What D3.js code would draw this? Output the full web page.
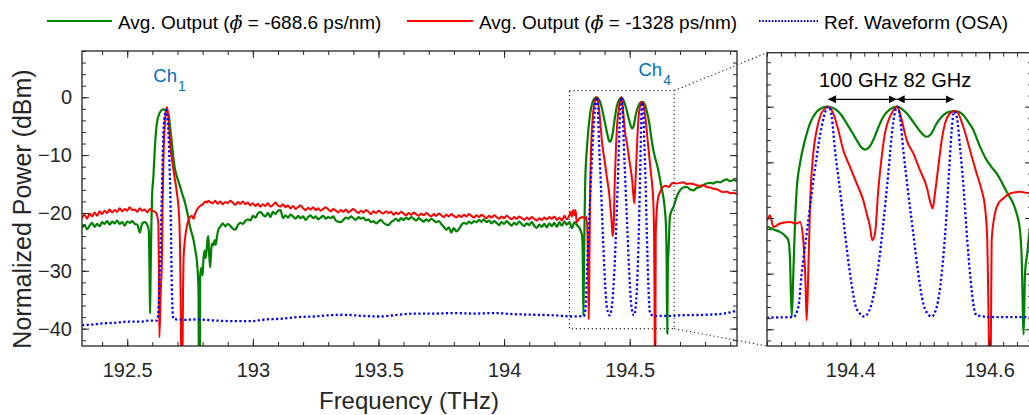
<!DOCTYPE html>
<html>
<head>
<meta charset="utf-8">
<script src="https://cdn.jsdelivr.net/npm/d3@7"></script>
<style>
body{margin:0;background:#fff;}
svg{display:block;font-family:"Liberation Sans",Arial,sans-serif;}
</style>
</head>
<body>
<div id="chart"></div>
<script>
// ---- data (frequency in THz, power in dBm) ----
const greenSpectrum = [
 [192.32,-22.6],[192.33,-22.1],[192.34,-22.8],[192.35,-22.2],[192.36,-21.7],[192.37,-22.4],[192.38,-21.9],[192.39,-22.3],
 [192.40,-21.6],[192.41,-21.9],[192.42,-21.4],[192.43,-22.0],[192.44,-21.5],[192.45,-21.8],[192.46,-21.3],[192.47,-21.9],
 [192.48,-21.6],[192.49,-22.2],[192.50,-21.5],[192.51,-21.7],[192.52,-21.4],[192.53,-21.9],[192.54,-22.0],[192.55,-23.4],
 [192.555,-22.6],[192.56,-21.8],[192.57,-21.6],[192.58,-22.1],[192.586,-23.0],[192.589,-31],[192.591,-37.4],[192.593,-31],
 [192.596,-22.4],[192.599,-17],[192.604,-13.8],[192.611,-8.0],[192.618,-4.5],[192.628,-2.8],[192.636,-2.3],[192.644,-2.1],
 [192.652,-2.3],[192.664,-2.9],[192.671,-5.2],[192.678,-8.0],[192.684,-10.5],[192.691,-12.6],[192.701,-14.2],[192.711,-15.5],
 [192.721,-17.0],[192.731,-18.4],[192.741,-20.3],[192.750,-22.4],[192.757,-23.5],[192.764,-24.7],[192.771,-26.5],[192.777,-28.2],
 [192.781,-30.5],[192.784,-34],[192.785,-46],[192.789,-46],[192.790,-31],[192.795,-29.5],[192.800,-30.8],[192.803,-28.2],
 [192.808,-26.5],[192.812,-27.8],[192.817,-25.9],[192.820,-24.5],[192.823,-24.0],[192.826,-27.0],[192.830,-29.4],[192.834,-26.5],
 [192.838,-25.3],[192.843,-25.6],[192.848,-24.7],[192.852,-25.5],[192.857,-24.2],[192.862,-23.0],[192.866,-22.6],[192.870,-22.4],
 [192.88,-21.8],[192.89,-22.3],[192.90,-21.9],[192.91,-22.2],[192.92,-22.7],[192.93,-22.9],[192.94,-22.1],[192.95,-21.7],
 [192.96,-21.9],[192.97,-21.4],[192.98,-21.1],[192.99,-21.3],[193.00,-20.5],[193.01,-20.8],[193.02,-20.1],[193.03,-19.8],
 [193.04,-20.3],[193.05,-20.6],[193.06,-20.0],[193.07,-20.7],[193.08,-19.8],[193.09,-20.2],[193.10,-19.6],[193.11,-19.5],
 [193.12,-20.9],[193.13,-20.4],[193.14,-20.8],[193.15,-20.3],[193.16,-20.6],[193.17,-21.0],[193.18,-20.5],[193.19,-20.9],
 [193.20,-20.6],[193.21,-21.2],[193.22,-20.7],[193.23,-20.4],[193.24,-20.9],[193.25,-20.6],[193.26,-21.1],[193.27,-20.8],
 [193.28,-20.5],[193.29,-21.0],[193.30,-20.7],[193.31,-20.9],[193.32,-20.6],[193.33,-21.3],[193.34,-21.5],[193.35,-21.6],
 [193.36,-21.2],[193.37,-20.8],[193.38,-21.0],[193.39,-20.6],[193.40,-20.9],[193.41,-21.2],[193.42,-20.7],[193.43,-21.0],
 [193.44,-20.8],[193.45,-21.3],[193.46,-21.1],[193.47,-21.6],[193.48,-21.4],[193.49,-21.8],[193.50,-21.5],[193.51,-21.2],
 [193.52,-21.7],[193.53,-22.0],[193.54,-22.1],[193.55,-21.6],[193.56,-21.3],[193.57,-21.0],[193.58,-21.4],[193.59,-20.9],
 [193.60,-21.2],[193.61,-20.8],[193.62,-21.1],[193.63,-20.7],[193.64,-21.0],[193.65,-21.3],[193.66,-20.9],[193.67,-21.2],
 [193.68,-21.5],[193.69,-21.1],[193.70,-21.4],[193.71,-21.0],[193.72,-21.3],[193.73,-21.6],[193.74,-21.4],[193.75,-21.9],
 [193.76,-22.4],[193.77,-22.9],[193.78,-22.5],[193.79,-23.4],[193.80,-22.6],[193.81,-23.2],[193.82,-22.8],[193.83,-22.1],
 [193.84,-21.7],[193.85,-21.9],[193.86,-21.5],[193.87,-21.8],[193.88,-21.4],[193.89,-21.6],[193.90,-21.2],[193.91,-21.5],
 [193.92,-21.1],[193.93,-21.6],[193.94,-21.3],[193.95,-21.8],[193.96,-21.4],[193.97,-21.7],[193.98,-22.1],[193.99,-21.6],
 [194.00,-21.9],[194.01,-21.4],[194.02,-21.8],[194.03,-22.2],[194.04,-21.7],[194.05,-22.0],[194.06,-21.5],[194.07,-21.9],
 [194.08,-22.3],[194.09,-21.8],[194.10,-22.1],[194.11,-21.6],[194.12,-22.2],[194.13,-22.6],[194.14,-22.0],[194.15,-22.4],
 [194.16,-21.9],[194.17,-22.5],[194.18,-21.8],[194.19,-22.3],[194.20,-21.7],[194.21,-22.4],[194.22,-21.6],[194.23,-22.2],
 [194.24,-21.5],[194.25,-22.0],[194.26,-21.6],[194.27,-22.6],[194.28,-21.6],[194.29,-22.1],[194.2987,-22.5],[194.306,-23.2],
 [194.3107,-24.0],[194.313,-27],[194.3156,-37.8],[194.3179,-30],[194.3203,-21],[194.3227,-15],[194.3275,-10.2],[194.3347,-6.0],
 [194.3419,-3.0],[194.3515,-0.9],[194.358,-0.3],[194.3659,0],[194.373,-0.15],[194.3803,-0.6],[194.387,-1.5],[194.3947,-3.0],
 [194.402,-4.5],[194.4091,-6.0],[194.415,-7.2],[194.4211,-7.7],[194.427,-7.3],[194.433,-6.0],[194.440,-3.8],[194.4474,-1.8],
 [194.457,-0.5],[194.4667,0],[194.474,-0.4],[194.4811,-1.2],[194.488,-2.3],[194.4955,-3.6],[194.503,-4.8],[194.5099,-5.4],
 [194.5156,-5.0],[194.5243,-3.0],[194.531,-1.9],[194.5387,-1.1],[194.5482,-0.8],[194.555,-0.9],[194.5626,-1.5],[194.569,-2.6],
 [194.577,-4.2],[194.586,-7.0],[194.5962,-9.6],[194.603,-10.8],[194.6106,-12.0],[194.618,-13.6],[194.625,-15.3],[194.6345,-17.4],
 [194.6394,-19.2],[194.6442,-22.2],[194.6466,-27],[194.6495,-40.9],[194.6514,-30],[194.6547,-26.3],[194.660,-20.7],[194.667,-19.6],
 [194.674,-19.0],[194.687,-17.2],[194.700,-16.1],[194.713,-15.6],[194.727,-15.5],[194.740,-15.9],[194.753,-16.1],[194.766,-15.7],
 [194.780,-15.5],[194.793,-15.2],[194.806,-14.9],[194.820,-14.8],[194.833,-14.9],[194.846,-14.6],[194.860,-14.7],[194.873,-14.4],
 [194.886,-14.2],[194.900,-14.5],[194.913,-14.3],[194.927,-14.5]
];

const redSpectrum = [
 [192.32,-20.9],[192.33,-20.3],[192.34,-21.0],[192.35,-20.1],[192.36,-20.6],[192.37,-19.9],[192.38,-20.5],[192.39,-19.7],
 [192.40,-20.2],[192.41,-19.6],[192.42,-20.0],[192.43,-19.4],[192.44,-19.9],[192.45,-19.5],[192.46,-19.8],[192.47,-19.2],
 [192.48,-19.7],[192.49,-19.3],[192.50,-19.6],[192.51,-19.0],[192.52,-19.5],[192.53,-19.4],[192.54,-19.8],[192.55,-19.2],
 [192.56,-19.6],[192.57,-19.4],[192.58,-19.9],[192.59,-19.3],[192.60,-19.6],[192.61,-19.8],[192.618,-20.3],[192.624,-22.0],
 [192.626,-30],[192.628,-41.5],[192.633,-34],[192.638,-28],[192.641,-18],[192.644,-10.9],[192.651,-3.9],[192.658,-1.7],
 [192.664,-3.4],[192.671,-8.0],[192.684,-12.6],[192.698,-16.6],[192.705,-19.5],[192.708,-22],[192.711,-28.2],[192.713,-36],
 [192.715,-46],[192.720,-46],[192.722,-34],[192.724,-28.2],[192.730,-24.5],[192.737,-22.4],[192.744,-21.2],[192.750,-20.7],
 [192.757,-20.5],[192.764,-21.0],[192.770,-20.2],[192.777,-19.5],[192.785,-19.0],[192.790,-18.8],[192.797,-18.6],[192.803,-18.4],
 [192.810,-18.0],[192.817,-18.2],[192.823,-17.9],[192.83,-18.1],[192.84,-18.3],[192.85,-17.9],[192.86,-18.4],[192.87,-18.0],
 [192.88,-18.5],[192.89,-18.1],[192.90,-18.3],[192.91,-17.9],[192.92,-18.2],[192.93,-18.6],[192.94,-18.1],[192.95,-18.4],
 [192.96,-18.0],[192.97,-18.5],[192.98,-18.2],[192.99,-18.7],[193.00,-18.3],[193.01,-18.8],[193.02,-18.4],[193.03,-18.9],
 [193.04,-18.5],[193.05,-18.8],[193.06,-18.3],[193.07,-18.9],[193.08,-18.6],[193.09,-18.2],[193.10,-18.7],[193.11,-18.9],
 [193.12,-18.5],[193.13,-19.0],[193.14,-18.7],[193.15,-19.2],[193.16,-18.8],[193.17,-19.3],[193.18,-19.0],[193.19,-18.7],
 [193.20,-19.2],[193.21,-19.5],[193.22,-19.1],[193.23,-19.4],[193.24,-19.0],[193.25,-19.5],[193.26,-19.2],[193.27,-19.6],
 [193.28,-19.3],[193.29,-19.0],[193.30,-19.4],[193.31,-19.7],[193.32,-19.3],[193.33,-19.6],[193.34,-19.9],[193.35,-19.5],
 [193.36,-19.8],[193.37,-19.4],[193.38,-19.9],[193.39,-19.6],[193.40,-19.3],[193.41,-19.7],[193.42,-20.0],[193.43,-19.6],
 [193.44,-19.9],[193.45,-19.5],[193.46,-19.8],[193.47,-20.2],[193.48,-19.7],[193.49,-20.0],[193.50,-19.6],[193.51,-19.9],
 [193.52,-20.1],[193.53,-19.7],[193.54,-20.0],[193.55,-19.8],[193.56,-20.3],[193.57,-19.9],[193.58,-20.2],[193.59,-19.8],
 [193.60,-20.1],[193.61,-20.4],[193.62,-20.0],[193.63,-20.3],[193.64,-19.9],[193.65,-20.2],[193.66,-20.5],[193.67,-20.1],
 [193.68,-20.4],[193.69,-20.0],[193.70,-20.3],[193.71,-20.6],[193.72,-20.2],[193.73,-20.5],[193.74,-20.1],[193.75,-20.4],
 [193.76,-20.7],[193.77,-20.3],[193.78,-20.6],[193.79,-20.2],[193.80,-20.5],[193.81,-20.8],[193.82,-20.4],[193.83,-20.7],
 [193.84,-20.3],[193.85,-20.6],[193.86,-20.2],[193.87,-20.5],[193.88,-20.8],[193.89,-20.4],[193.90,-20.7],[193.91,-20.3],
 [193.92,-20.6],[193.93,-20.9],[193.94,-20.5],[193.95,-20.8],[193.96,-20.4],[193.97,-20.7],[193.98,-21.0],[193.99,-20.6],
 [194.00,-20.9],[194.01,-20.5],[194.02,-20.8],[194.03,-21.1],[194.04,-20.7],[194.05,-21.0],[194.06,-20.6],[194.07,-20.9],
 [194.08,-21.2],[194.09,-20.8],[194.10,-21.1],[194.11,-20.7],[194.12,-21.0],[194.13,-21.3],[194.14,-20.9],[194.15,-21.2],
 [194.16,-20.8],[194.17,-21.1],[194.18,-20.7],[194.19,-21.0],[194.20,-20.6],[194.21,-21.2],[194.22,-20.8],[194.23,-21.3],
 [194.24,-20.5],[194.25,-21.1],[194.26,-20.4],[194.265,-19.8],[194.27,-20.6],[194.275,-19.5],[194.28,-20.4],[194.2843,-19.5],
 [194.2891,-21.6],[194.2987,-21.0],[194.305,-20.8],[194.3131,-20.7],[194.3227,-21.0],[194.3275,-20.7],[194.3322,-24],[194.3355,-32],
 [194.3371,-38.4],[194.3394,-30],[194.3419,-18],[194.3466,-8.4],[194.3515,-4.2],[194.3563,-1.8],[194.3635,-0.3],[194.3682,0],
 [194.3754,-1.2],[194.3826,-4.2],[194.3898,-7.8],[194.3995,-10.8],[194.4091,-13.8],[194.4186,-16.8],[194.4235,-19.2],[194.4283,-21.6],
 [194.4316,-24],[194.4355,-22.8],[194.4402,-15],[194.4451,-9],[194.4498,-4.8],[194.457,-1.8],[194.4642,-0.3],[194.4675,0],
 [194.4739,-2.4],[194.4811,-6],[194.4906,-8.4],[194.5002,-11.4],[194.5099,-14.4],[194.5156,-17.4],[194.5185,-18.3],[194.5218,-15.6],
 [194.5266,-10.8],[194.5315,-6],[194.5362,-3],[194.5434,-1.2],[194.5492,-0.8],[194.5531,-0.9],[194.5626,-3.6],[194.5722,-7.8],
 [194.5818,-12],[194.589,-15],[194.5938,-18],[194.5971,-24],[194.5985,-34],[194.600,-46],[194.602,-46],[194.6034,-24],
 [194.6082,-19.2],[194.613,-17.4],[194.6201,-16.5],[194.6298,-15.6],[194.6442,-15.3],[194.6561,-15.5],[194.665,-15.0],[194.674,-14.8],
 [194.687,-14.9],[194.700,-14.8],[194.713,-14.7],[194.727,-15.0],[194.740,-14.9],[194.753,-15.0],[194.766,-15.2],[194.780,-15.3],
 [194.793,-15.2],[194.806,-15.5],[194.820,-15.6],[194.833,-15.8],[194.846,-15.9],[194.860,-16.2],[194.873,-16.4],[194.886,-16.3],
 [194.900,-16.6],[194.913,-16.5],[194.927,-16.8]
];

const refSpectrum = [
 [192.32,-39.4],[192.36,-39.3],[192.40,-39.1],[192.45,-39.0],[192.50,-38.8],[192.55,-38.8],[192.59,-38.6],[192.617,-38.6],
 [192.620,-38.4],[192.624,-37],[192.628,-32],[192.631,-28.2],[192.638,-16.6],[192.644,-6.2],[192.651,-2.8],[192.654,-2.2],
 [192.660,-3.4],[192.668,-10.9],[192.674,-22.4],[192.678,-34],[192.684,-38.3],[192.72,-38.5],[192.78,-38.4],[192.85,-38.6],
 [192.93,-38.7],[193.00,-38.7],[193.05,-38.4],[193.11,-38.3],[193.18,-38.0],[193.24,-37.9],[193.30,-37.7],[193.36,-37.6],
 [193.44,-37.8],[193.50,-37.9],[193.58,-37.6],[193.64,-37.4],[193.72,-37.4],[193.80,-37.3],[193.88,-37.4],[193.96,-37.3],
 [194.04,-37.5],[194.12,-37.6],[194.20,-37.7],[194.27,-37.9],[194.3179,-37.8],[194.3251,-36],[194.3299,-30],[194.3371,-22.8],
 [194.3443,-15.6],[194.3515,-9],[194.3587,-3.6],[194.3649,-0.6],[194.3692,0],[194.3731,-1.8],[194.3779,-7.8],[194.3851,-15],
 [194.3923,-22.8],[194.3995,-30],[194.4067,-35.4],[194.4139,-37.2],[194.4196,-37.7],[194.4258,-37],[194.433,-34.2],[194.4402,-28.8],
 [194.4474,-21],[194.4546,-12],[194.4609,-3.6],[194.4657,-0.3],[194.4675,0],[194.4714,-1.8],[194.4762,-7.8],[194.4834,-15.6],
 [194.4906,-22.8],[194.4978,-30],[194.505,-35.4],[194.5113,-37.2],[194.5171,-37.7],[194.5243,-36],[194.5315,-30],[194.5372,-21.6],
 [194.542,-12],[194.5459,-4.2],[194.5492,-0.9],[194.5531,-1.8],[194.5578,-7.2],[194.5636,-15.6],[194.5683,-24],[194.5732,-31.2],
 [194.577,-35.4],[194.5818,-37.5],[194.6058,-37.8],[194.6538,-37.8],[194.700,-37.7],[194.806,-37.6],[194.873,-37.4],[194.927,-36.9]
];

const seriesNames = ['green', 'red', 'ref'];
const legendPrefix = ['Avg. Output (', 'Avg. Output (', 'Ref. Waveform (OSA)'];
const legendSuffix = [' = -688.6 ps/nm)', ' = -1328 ps/nm)', ''];

const mainXTicks = [192.5, 193, 193.5, 194, 194.5];
const mainXTickLabels = ['192.5', '193', '193.5', '194', '194.5'];
const mainYTicks = [0, -10, -20, -30, -40];
const insetXTicks = [194.4, 194.6];
const insetXTickLabels = ['194.4', '194.6'];
const insetYTicks = [0, -10, -20, -30, -40];

// channel labels [frequency, dBm, subscript]
const channelLabels = [[192.604, 2.65, '1'], [194.535, 3.7, '4']];
// zoom box [f0, f1, dB0, dB1]
const zoomBox = [194.26, 194.677, -40, 1.15];
// peaks used for spacing arrows, and arrow level
const peakFreqs = [194.368, 194.4667, 194.5487];
const arrowLevel = 1.33;
const spacingText = '100 GHz 82 GHz';

// ---- layout ----
const width = 1029, height = 415;
const svg = d3.select('#chart').append('svg')
  .attr('width', width).attr('height', height);

const colors = {green: '#008000', red: '#ff0000', ref: '#0000ff'};
const axisColor = '#262626';

const xMain = d3.scaleLinear().domain([192.32, 194.927]).range([82, 737]);
const yMain = d3.scaleLinear().domain([-43, 8]).range([346, 51]);
const xIn = d3.scaleLinear().domain([194.28, 194.6615]).range([767, 1032]);
const yIn = d3.scaleLinear().domain([-43, 9.7]).range([346, 52.7]);

const defs = svg.append('defs');
[['clip-main', xMain, yMain], ['clip-inset', xIn, yIn]].forEach(([id, x, y]) => {
  defs.append('clipPath').attr('id', id).append('rect')
    .attr('x', x.range()[0]).attr('y', y.range()[1])
    .attr('width', x.range()[1] - x.range()[0])
    .attr('height', y.range()[0] - y.range()[1]);
});
defs.append('marker').attr('id', 'arrowhead')
  .attr('viewBox', '0 0 10 10').attr('refX', 10).attr('refY', 5)
  .attr('markerWidth', 8).attr('markerHeight', 8).attr('markerUnits', 'userSpaceOnUse')
  .attr('orient', 'auto-start-reverse')
  .append('path').attr('d', 'M0,0 L10,5 L0,10 z').attr('fill', '#000');

function styleAxis(sel, fontSize) {
  sel.select('.domain').remove();
  sel.selectAll('.tick line').attr('stroke', axisColor).attr('stroke-width', 1);
  sel.selectAll('.tick text').attr('fill', axisColor)
    .style('font-size', fontSize + 'px')
    .style('font-family', '"Liberation Sans", Arial, sans-serif');
}

function drawFrame(x, y, o) {
  const g = svg.append('g');
  const x0 = x.range()[0], x1 = x.range()[1], yb = y.range()[0], yt = y.range()[1];
  // bottom
  g.append('g').attr('transform', `translate(0,${yb})`)
    .call(d3.axisBottom(x).tickValues(o.xMinor).tickSize(-4).tickFormat(''))
    .call(styleAxis, 20);
  g.append('g').attr('transform', `translate(0,${yb})`)
    .call(d3.axisBottom(x).tickValues(o.xMajor).tickSize(-7).tickPadding(17)
      .tickFormat((d, i) => o.xLabels[i]))
    .call(styleAxis, 20);
  // top
  g.append('g').attr('transform', `translate(0,${yt})`)
    .call(d3.axisTop(x).tickValues(o.xMinor).tickSize(-4).tickFormat(''))
    .call(styleAxis, 20);
  g.append('g').attr('transform', `translate(0,${yt})`)
    .call(d3.axisTop(x).tickValues(o.xMajor).tickSize(-7).tickFormat(''))
    .call(styleAxis, 20);
  // left
  g.append('g').attr('transform', `translate(${x0},0)`)
    .call(d3.axisLeft(y).tickValues(o.yMinor).tickSize(-4).tickFormat(''))
    .call(styleAxis, 20);
  g.append('g').attr('transform', `translate(${x0},0)`)
    .call(d3.axisLeft(y).tickValues(o.yMajor).tickSize(-7).tickPadding(10)
      .tickFormat(o.yLabels ? d3.format('d') : ''))
    .call(styleAxis, 20);
  // right
  g.append('g').attr('transform', `translate(${x1},0)`)
    .call(d3.axisRight(y).tickValues(o.yMinor).tickSize(-4).tickFormat(''))
    .call(styleAxis, 20);
  g.append('g').attr('transform', `translate(${x1},0)`)
    .call(d3.axisRight(y).tickValues(o.yMajor).tickSize(-7).tickFormat(''))
    .call(styleAxis, 20);
  g.append('rect').attr('x', x0).attr('y', yt)
    .attr('width', x1 - x0).attr('height', yb - yt)
    .attr('fill', 'none').attr('stroke', axisColor).attr('stroke-width', 1.3);
  g.selectAll('.tick text').filter(function(){ return this.textContent === '-0'; }).text('0');
}

function drawTraces(x, y, clipId) {
  const line = d3.line().x(d => x(d[0])).y(d => y(d[1])).curve(d3.curveMonotoneX);
  const g = svg.append('g').attr('clip-path', `url(#${clipId})`);
  const data = {green: greenSpectrum, red: redSpectrum, ref: refSpectrum};
  seriesNames.forEach(name => {
    const p = g.append('path').datum(data[name])
      .attr('d', line)
      .attr('fill', 'none')
      .attr('stroke', colors[name])
      .attr('stroke-linejoin', 'round');
    if (name === 'ref') {
      p.attr('stroke-width', 2.3).attr('stroke-dasharray', '2.2,2.4');
    } else {
      p.attr('stroke-width', name === 'green' ? 2.2 : 2.0);
    }
  });
}

// minor tick positions (axis decoration only)
const mainXMinor = d3.range(1924, 1950).map(d => d / 10);
const mainYMinor = d3.range(-42, 9, 2);
const insetXMinor = d3.range(9714, 9734).map(d => d / 50);
const insetYMinor = d3.range(-42, 10, 2);

drawTraces(xMain, yMain, 'clip-main');
drawFrame(xMain, yMain, {xMajor: mainXTicks, xLabels: mainXTickLabels, xMinor: mainXMinor,
  yMajor: mainYTicks, yMinor: mainYMinor, yLabels: true});

drawTraces(xIn, yIn, 'clip-inset');
drawFrame(xIn, yIn, {xMajor: insetXTicks, xLabels: insetXTickLabels, xMinor: insetXMinor,
  yMajor: insetYTicks, yMinor: insetYMinor, yLabels: false});

// zoom box and connectors
const dotted = {stroke: '#333', 'stroke-width': 1.2, 'stroke-dasharray': '1.2,2.8', fill: 'none'};
const zb = svg.append('rect')
  .attr('x', xMain(zoomBox[0])).attr('y', yMain(zoomBox[3]))
  .attr('width', xMain(zoomBox[1]) - xMain(zoomBox[0]))
  .attr('height', yMain(zoomBox[2]) - yMain(zoomBox[3]));
Object.entries(dotted).forEach(([k, v]) => zb.attr(k, v));
[[zoomBox[3], yIn.range()[1]], [zoomBox[2], yIn.range()[0]]].forEach(([db, yy]) => {
  const l = svg.append('line')
    .attr('x1', xMain(zoomBox[1])).attr('y1', yMain(db))
    .attr('x2', xIn.range()[0]).attr('y2', yy);
  Object.entries(dotted).forEach(([k, v]) => l.attr(k, v));
});

// channel labels
channelLabels.forEach(([f, db, sub]) => {
  const t = svg.append('text')
    .attr('x', xMain(f)).attr('y', yMain(db))
    .attr('fill', '#0072bd').style('font-size', '18.5px');
  t.append('tspan').text('Ch');
  t.append('tspan').attr('dy', 9).attr('dx', 1).style('font-size', '14px').text(sub);
});

// spacing arrows in inset
for (let i = 0; i < peakFreqs.length - 1; i++) {
  svg.append('line')
    .attr('x1', xIn(peakFreqs[i])).attr('x2', xIn(peakFreqs[i + 1]))
    .attr('y1', yIn(arrowLevel)).attr('y2', yIn(arrowLevel))
    .attr('stroke', '#000').attr('stroke-width', 1.2)
    .attr('marker-start', 'url(#arrowhead)').attr('marker-end', 'url(#arrowhead)');
}
svg.append('text')
  .attr('x', xIn(194.4645)).attr('y', yIn(3.54))
  .attr('text-anchor', 'middle').attr('fill', '#000')
  .style('font-size', '20px').text(spacingText);

// axis titles
svg.append('text')
  .attr('x', 409).attr('y', 409).attr('text-anchor', 'middle')
  .attr('fill', axisColor).style('font-size', '24px').text('Frequency (THz)');
svg.append('text')
  .attr('transform', 'translate(31,209) rotate(-90)').attr('text-anchor', 'middle')
  .attr('fill', axisColor).style('font-size', '25px').text('Normalized Power (dBm)');

// legend
const legendLineX = [[47, 112], [407, 473], [759, 818]];
const legend = svg.append('g');
seriesNames.forEach((name, i) => {
  const ln = legend.append('line')
    .attr('x1', legendLineX[i][0]).attr('x2', legendLineX[i][1])
    .attr('y1', 21).attr('y2', 21)
    .attr('stroke', colors[name]);
  if (name === 'ref') ln.attr('stroke-width', 2).attr('stroke-dasharray', '1.6,1.6');
  else ln.attr('stroke-width', 2);
  const t = legend.append('text')
    .attr('x', legendLineX[i][1] + 6).attr('y', 28.5)
    .attr('fill', '#000').style('font-size', '19px');
  t.append('tspan').text(legendPrefix[i]);
  if (legendSuffix[i]) {
    t.append('tspan').style('font-style', 'italic')
      .style('font-family', '"DejaVu Serif", serif').text('\u03D5\u0308');
    t.append('tspan').text(legendSuffix[i]);
  }
});
</script>
</body>
</html>
